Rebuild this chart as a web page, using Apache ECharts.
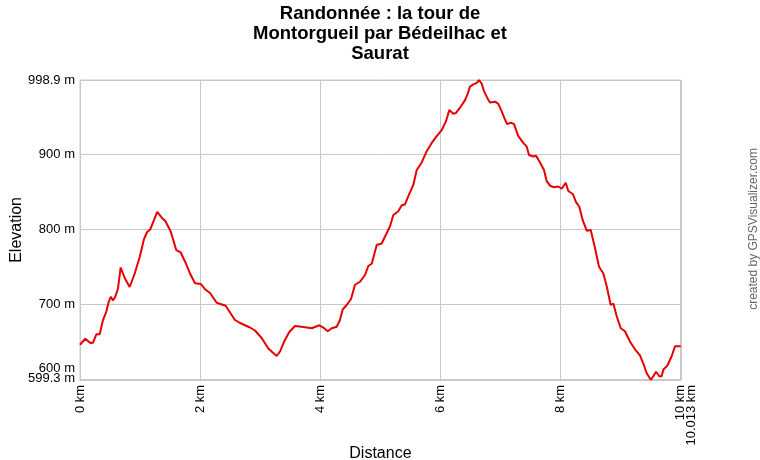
<!DOCTYPE html>
<html>
<head>
<meta charset="utf-8">
<script src="https://cdn.jsdelivr.net/npm/echarts@6/dist/echarts.min.js"></script>
<style>html,body{margin:0;padding:0;background:#fff}#c{width:760px;height:460px}</style>
</head>
<body>
<div id="c"></div>
<script>
const titleText = "Randonnée : la tour de\nMontorgueil par Bédeilhac et\nSaurat";
const xTickValues = [0, 2, 4, 6, 8, 10, 10.013];
const yTickValues = [599.3, 600, 700, 800, 900, 998.9];
const distKm = [0,0.088,0.178,0.217,0.272,0.328,0.383,0.438,0.478,0.512,0.55,0.588,0.633,0.678,0.745,0.828,0.912,0.995,1.067,1.117,1.172,1.233,1.288,1.355,1.422,1.512,1.605,1.678,1.75,1.833,1.917,2.012,2.083,2.167,2.278,2.428,2.5,2.583,2.667,2.833,2.917,3.028,3.138,3.278,3.333,3.4,3.488,3.583,3.695,3.862,3.988,4.055,4.128,4.195,4.278,4.333,4.378,4.445,4.517,4.583,4.667,4.75,4.805,4.862,4.945,5.028,5.112,5.167,5.222,5.305,5.362,5.417,5.472,5.555,5.612,5.695,5.778,5.862,5.945,6.028,6.1,6.155,6.183,6.222,6.267,6.333,6.417,6.455,6.5,6.555,6.612,6.65,6.695,6.733,6.788,6.833,6.917,6.972,7.028,7.083,7.122,7.178,7.233,7.305,7.388,7.445,7.483,7.555,7.6,7.667,7.733,7.778,7.833,7.9,7.933,7.972,8.028,8.095,8.138,8.212,8.267,8.322,8.378,8.445,8.512,8.583,8.65,8.722,8.778,8.845,8.888,8.945,9.012,9.083,9.167,9.25,9.333,9.388,9.445,9.512,9.555,9.6,9.655,9.695,9.722,9.788,9.862,9.917,9.972,10.013];
const elevM = [646,654,648,649,660,660,679,690,703,710,705,710,721,749,735,723,741,763,787,796,800,812,823,816,811,797,772,769,757,741,728,727,720,715,702,698,689,679,675,669,665,655,641,631,637,650,663,671,670,668,672,669,664,668,670,679,693,699,707,726,730,739,751,754,779,781,795,804,819,824,832,833,844,859,879,889,904,915,924,932,944,959,959,954,955,962,972,979,990,993,995,998.9,994,984,975,969,970,967,957,946,940,942,940,924,915,910,899,897,898,889,879,864,858,856,858,857,854,862,851,847,836,830,812,798,799,775,750,741,724,699,701,684,668,664,650,640,632,621,608,599.3,604,610,604,604,613,618,631,644,644,644];

const FONT = 'Arial, "Liberation Sans", sans-serif';
const gridColor = '#c8c8c8';
const chart = echarts.init(document.getElementById('c'), null, {renderer: 'canvas'});
chart.setOption({
  animation: false,
  backgroundColor: '#fff',
  title: {
    text: titleText,
    left: 'center',
    top: -1,
    textStyle: {fontFamily: FONT, fontSize: 18.5, fontWeight: 'bold', color: '#000', lineHeight: 20}
  },
  graphic: [{
    type: 'text',
    left: 748,
    top: 148,
    rotation: Math.PI / 2,
    style: {text: 'created by GPSVisualizer.com', fontFamily: FONT, fontSize: 12, fill: '#666'}
  }],
  grid: {left: 80, right: 79.2, top: 80, bottom: 80.2, outerBoundsMode: 'none', containLabel: false,
         show: true, borderColor: gridColor, borderWidth: 1, backgroundColor: 'transparent'},
  xAxis: {
    type: 'value', min: 0, max: 10.013,
    name: 'Distance', nameLocation: 'middle', nameGap: 66, nameMoveOverlap: false,
    nameTextStyle: {fontFamily: FONT, fontSize: 16, color: '#000'},
    axisLine: {show: true, lineStyle: {color: gridColor, width: 1}},
    axisTick: {show: false, customValues: xTickValues},
    splitLine: {show: true, lineStyle: {color: gridColor, width: 1}},
    axisLabel: {
      customValues: xTickValues, rotate: 90, margin: 5, showMinLabel: true, showMaxLabel: true,
      fontFamily: FONT, fontSize: 13, color: '#000',
      formatter: function (v) {
        if (v === 10) return '';
        if (v === 10.013) return '{e| }\n{a|10 km}\n{a|10.013 km}';
        return v + ' km';
      },
      rich: {
        a: {fontFamily: FONT, fontSize: 13, color: '#000', lineHeight: 11},
        e: {fontFamily: FONT, fontSize: 13, lineHeight: 11}
      }
    }
  },
  yAxis: {
    type: 'value', min: 599.3, max: 998.9,
    name: 'Elevation', nameLocation: 'middle', nameGap: 55, nameRotate: 90, nameMoveOverlap: false,
    nameTextStyle: {fontFamily: FONT, fontSize: 16, color: '#000'},
    axisLine: {show: true, lineStyle: {color: gridColor, width: 1}},
    axisTick: {show: false, customValues: yTickValues},
    splitLine: {show: true, lineStyle: {color: gridColor, width: 1}},
    axisLabel: {
      customValues: yTickValues, margin: 5, showMinLabel: true, showMaxLabel: true,
      fontFamily: FONT, fontSize: 13, color: '#000',
      formatter: function (v) {
        if (v === 600) return '';
        if (v === 599.3) return '{a|600 m}\n{a|599.3 m}\n{e| }';
        return v + ' m';
      },
      rich: {
        a: {fontFamily: FONT, fontSize: 13, color: '#000', lineHeight: 10},
        e: {fontFamily: FONT, fontSize: 13, lineHeight: 12}
      }
    }
  },
  series: [{
    type: 'line',
    data: distKm.map((d, i) => [d, elevM[i]]),
    showSymbol: false,
    lineStyle: {color: '#e60000', width: 2},
    itemStyle: {color: '#e60000'}
  }]
});
</script>
</body>
</html>
